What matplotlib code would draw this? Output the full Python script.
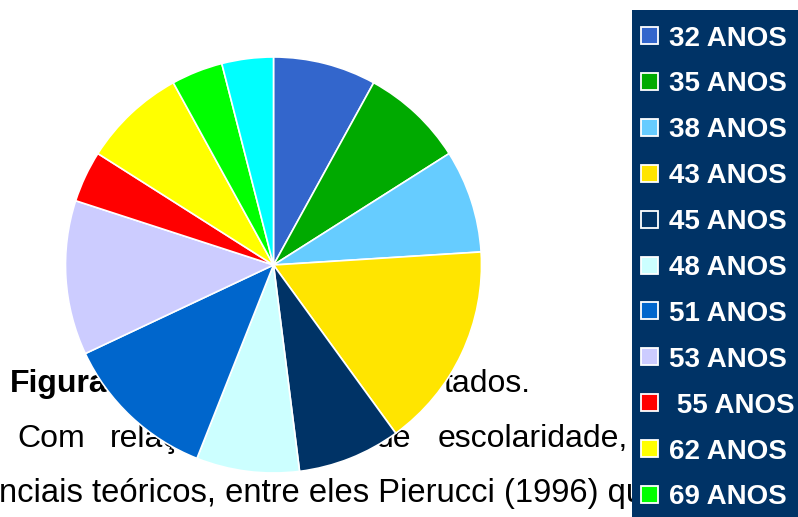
import matplotlib
matplotlib.use("Agg")
import matplotlib.pyplot as plt
from matplotlib.patches import Rectangle

# ---- data ----
categories = ["32 ANOS", "35 ANOS", "38 ANOS", "43 ANOS", "45 ANOS", "48 ANOS",
              "51 ANOS", "53 ANOS", " 55 ANOS", "62 ANOS", "69 ANOS", ""]
counts = [2, 2, 2, 4, 2, 2, 3, 3, 1, 2, 1, 1]
colors = ["#3366CC", "#00AA00", "#66CCFF", "#FFE500", "#003366", "#CCFFFF",
          "#0066CC", "#CCCCFF", "#FF0000", "#FFFF00", "#00FF00", "#00FFFF"]
legend_labels = categories[:11]

W, H = 798, 517
fig = plt.figure(figsize=(W / 100, H / 100), dpi=100)
fig.patch.set_facecolor("white")
ax = fig.add_axes([0, 0, 1, 1])

cx, cy, r = 273.5, H - 265, 208
wedges, _ = ax.pie(counts, colors=colors, startangle=90, counterclock=False,
                   center=(cx, cy), radius=r,
                   wedgeprops=dict(edgecolor="white", linewidth=1.2, zorder=2))
ax.set_xlim(0, W)
ax.set_ylim(0, H)
ax.set_aspect("equal")
ax.axis("off")

# background document text (partly covered by the pie)
fs = 23
fam = ["Liberation Sans", "DejaVu Sans"]
ax.text(10, H - 392, "Figura", fontsize=fs, fontweight="bold", family=fam,
        va="baseline", ha="left", zorder=1)
ax.text(531, H - 392, "tados.", fontsize=fs, family=fam,
        va="baseline", ha="right", zorder=1)
ax.text(17, H - 447, "Com", fontsize=fs, family=fam, va="baseline", zorder=1)
ax.text(110, H - 447, "relação", fontsize=fs, family=fam, va="baseline", zorder=1)
ax.text(411, H - 447, "de", fontsize=fs, family=fam, va="baseline", ha="right", zorder=1)
ax.text(438, H - 447, "escolaridade,", fontsize=fs, family=fam, va="baseline", zorder=1)
ax.text(-1, H - 502, "nciais teóricos, entre eles Pierucci (1996) que", fontsize=23.6,
        family=fam, va="baseline", zorder=1)

# legend panel
lx0 = 632
lax = fig.add_axes([lx0 / W, 0, (W - lx0) / W, (H - 10) / H])
lax.set_xlim(lx0, W)
lax.set_ylim(0, H - 10)
lax.axis("off")
lax.add_patch(Rectangle((lx0, 0), W - lx0, H - 10, facecolor="#003366",
                        edgecolor="none", zorder=0))
row0, step = 35.5, 45.9
for i, lab in enumerate(legend_labels):
    yc = H - (row0 + i * step)
    lax.add_patch(Rectangle((640.5, yc - 8.5), 17, 17, facecolor=colors[i],
                            edgecolor="white", linewidth=1.3, zorder=2))
    lax.text(669, yc, lab, fontsize=20, fontweight="bold", color="white",
             family=fam, va="center_baseline", ha="left", zorder=3)

fig.savefig("out.png", dpi=100)
